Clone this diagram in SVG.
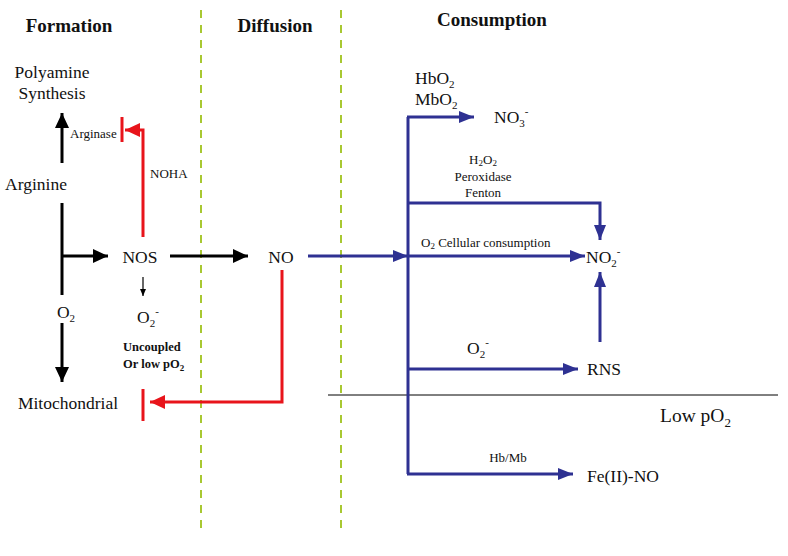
<svg xmlns="http://www.w3.org/2000/svg" width="788" height="556" viewBox="0 0 788 556" font-family="'Liberation Serif', 'Times New Roman', serif">
<style>
text{fill:#111}
.t{font-size:19px;font-weight:bold;text-anchor:middle}
.m{font-size:17.5px}
.s{font-size:13px}
.c{text-anchor:middle}
.b{font-weight:bold;font-size:12.5px}
.k{stroke:#000;stroke-width:3;fill:none}
.r{stroke:#e8141b;stroke-width:3;fill:none}
.u{stroke:#2e3192;stroke-width:3;fill:none}
.d{stroke:#a8c832;stroke-width:2;stroke-dasharray:8,7;fill:none}
</style>
<defs>
<marker id="ak" markerUnits="userSpaceOnUse" markerWidth="16" markerHeight="14" refX="15" refY="7" orient="auto"><path d="M0,0 L15,7 L0,14 Z" fill="#000"/></marker>
<marker id="ak2" markerUnits="userSpaceOnUse" markerWidth="8" markerHeight="8" refX="7" refY="4" orient="auto"><path d="M0,1 L7,4 L0,7 Z" fill="#000"/></marker>
<marker id="ar" markerUnits="userSpaceOnUse" markerWidth="16" markerHeight="14" refX="15" refY="7" orient="auto"><path d="M0,0 L15,7 L0,14 Z" fill="#e8141b"/></marker>
<marker id="au" markerUnits="userSpaceOnUse" markerWidth="16" markerHeight="14" refX="15" refY="7" orient="auto"><path d="M0,1 L15,7 L0,13 Z" fill="#2e3192"/></marker>
</defs>
<rect width="788" height="556" fill="#fff"/>
<g id="dividers">
<line class="d" x1="201" y1="10" x2="201" y2="530"/>
<line class="d" x1="341" y1="10" x2="341" y2="530"/>
<line x1="328" y1="395" x2="778" y2="395" stroke="#000" stroke-width="1"/>
</g>
<g id="titles">
<text class="t" x="69" y="32">Formation</text>
<text class="t" x="275" y="32">Diffusion</text>
<text class="t" x="492" y="26">Consumption</text>
</g>
<g id="connectors">
<line class="k" x1="62" y1="163" x2="62" y2="113" marker-end="url(#ak)"/>
<line class="k" x1="62" y1="203" x2="62" y2="295"/>
<line class="k" x1="62" y1="256" x2="108" y2="256" marker-end="url(#ak)"/>
<line class="k" x1="170" y1="256" x2="248" y2="256" marker-end="url(#ak)"/>
<line x1="143" y1="277" x2="143" y2="296" stroke="#000" stroke-width="1.2" marker-end="url(#ak2)"/>
<line class="k" x1="62" y1="323" x2="62" y2="382" marker-end="url(#ak)"/>
<polyline class="r" points="143,237 143,130 125,130" marker-end="url(#ar)"/>
<line class="r" x1="122" y1="117" x2="122" y2="142"/>
<polyline class="r" points="282,270 282,402 150,402" marker-end="url(#ar)"/>
<line class="r" x1="143" y1="389" x2="143" y2="421"/>
<line class="u" x1="308" y1="256" x2="408" y2="256" marker-end="url(#au)"/>
<line class="u" x1="408" y1="117" x2="408" y2="474"/>
<line class="u" x1="407" y1="117" x2="474" y2="117" marker-end="url(#au)"/>
<polyline class="u" points="408,203 600,203 600,240" marker-end="url(#au)"/>
<line class="u" x1="408" y1="256" x2="585" y2="256" marker-end="url(#au)"/>
<line class="u" x1="600" y1="342" x2="600" y2="272" marker-end="url(#au)"/>
<line class="u" x1="408" y1="369" x2="578" y2="369" marker-end="url(#au)"/>
<line class="u" x1="407" y1="474" x2="573" y2="474" marker-end="url(#au)"/>
</g>
<g id="polyamine"><text class="m c" x="52" y="78">Polyamine</text><text class="m c" x="52" y="99">Synthesis</text></g>
<g id="arginase"><text class="s" x="70" y="138">Arginase</text></g>
<g id="noha"><text class="s" x="150" y="178">NOHA</text></g>
<g id="arginine"><text class="m c" x="36" y="190">Arginine</text></g>
<g id="nos"><text class="m c" x="140" y="263">NOS</text></g>
<g id="no"><text class="m c" x="281" y="263">NO</text></g>
<g id="o2-left"><text class="m c" x="66" y="318">O<tspan font-size="11" dy="4">2</tspan></text></g>
<g id="o2minus"><text class="m" x="137" y="323">O<tspan font-size="11" dy="4">2</tspan><tspan font-size="11" dy="-12">-</tspan></text></g>
<g id="uncoupled"><text class="b" x="123" y="351">Uncoupled</text><text class="b" x="123" y="368">Or low pO<tspan font-size="9" dy="3">2</tspan></text></g>
<g id="mitochondrial"><text class="m c" x="68" y="409">Mitochondrial</text></g>
<g id="hbo2"><text class="m" x="415" y="84">HbO<tspan font-size="11" dy="4">2</tspan></text><text class="m" x="415" y="105">MbO<tspan font-size="11" dy="4">2</tspan></text></g>
<g id="no3"><text class="m" x="494" y="123">NO<tspan font-size="11" dy="4">3</tspan><tspan font-size="11" dy="-12">-</tspan></text></g>
<g id="h2o2"><text class="s c" x="483" y="164">H<tspan font-size="9" dy="2">2</tspan><tspan dy="-2">O</tspan><tspan font-size="9" dy="2">2</tspan></text><text class="s c" x="483" y="181">Peroxidase</text><text class="s c" x="483" y="197">Fenton</text></g>
<g id="cellular"><text class="s" x="421" y="247">O<tspan font-size="9" dy="2">2</tspan><tspan dy="-2"> Cellular consumption</tspan></text></g>
<g id="no2"><text class="m" x="586" y="263">NO<tspan font-size="11" dy="4">2</tspan><tspan font-size="11" dy="-12">-</tspan></text></g>
<g id="o2minus-rns"><text class="m" x="467" y="354">O<tspan font-size="11" dy="4">2</tspan><tspan font-size="11" dy="-12">-</tspan></text></g>
<g id="rns"><text class="m" x="587" y="375">RNS</text></g>
<g id="lowpo2"><text x="660" y="422" font-size="19.5">Low pO<tspan font-size="13" dy="5">2</tspan></text></g>
<g id="hbmb"><text class="s c" x="508" y="462">Hb/Mb</text></g>
<g id="fenO"><text class="m" x="587" y="482">Fe(II)-NO</text></g>
</svg>
